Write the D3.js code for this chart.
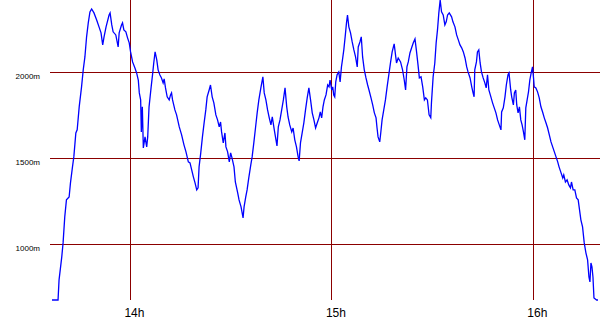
<!DOCTYPE html>
<html>
<head>
<meta charset="utf-8">
<script src="https://cdn.jsdelivr.net/npm/d3@7"></script>
<style>
  body { margin: 0; background: #fff; }
  svg { display: block; }
</style>
</head>
<body>
<div id="chart"></div>
<script>
// heure en minutes depuis minuit, altitude en mètres
const minutes = [
  816.8, 818.6, 818.9, 819.7, 820.1, 820.6, 821.1, 821.9, 822.3, 822.9,
  823.3, 823.9, 824.3, 824.9, 825.6, 826.1, 826.6, 827.1, 827.6, 828.1,
  828.6, 829.3, 830.1, 830.9, 831.4, 831.9, 832.3, 832.9, 833.2, 833.8,
  834.1, 834.6, 835.0, 835.8, 836.5, 836.8, 837.5, 837.8, 838.2, 838.8,
  839.3, 839.8, 840.2, 840.8, 841.5, 842.0, 842.5, 842.8, 843.2, 843.4,
  843.7, 844.0, 844.5, 845.0, 845.3, 845.7, 846.3, 846.8, 847.1, 847.5,
  848.0, 848.4, 848.9, 849.4, 849.9, 850.2, 850.6, 851.1, 851.7, 852.1,
  852.4, 852.7, 853.4, 853.9, 854.7, 855.4, 856.1, 856.7, 857.4, 857.9,
  858.4, 858.9, 859.4, 859.9, 860.3, 860.6, 861.1, 861.6, 862.1, 862.6,
  863.0, 863.6, 864.0, 864.5, 865.0, 865.6, 866.1, 866.6, 867.0, 867.3,
  867.8, 868.3, 868.6, 869.1, 869.6, 870.0, 870.4, 871.0, 871.4, 872.1,
  872.5, 873.1, 873.7, 874.0, 874.5, 874.9, 875.4, 876.0, 876.4, 876.9,
  877.4, 877.9, 878.4, 879.0, 879.6, 880.0, 880.5, 881.0, 881.5, 882.0,
  882.4, 883.0, 883.5, 883.8, 884.2, 884.7, 885.2, 885.7, 886.2, 886.7,
  887.1, 887.6, 888.2, 888.6, 889.1, 889.6, 890.1, 890.4, 890.8, 891.3,
  891.8, 892.3, 892.8, 893.3, 893.8, 894.3, 894.8, 895.3, 895.8, 896.3,
  896.7, 897.1, 897.5, 897.9, 898.4, 898.9, 899.3, 899.6, 900.1, 900.4,
  900.7, 901.0, 901.3, 901.7, 902.2, 902.6, 903.0, 903.3, 903.7, 904.1,
  904.5, 904.8, 905.2, 905.7, 906.2, 906.7, 907.2, 907.7, 908.0, 908.5,
  908.9, 909.3, 909.8, 910.3, 910.8, 911.2, 911.8, 912.3, 912.8, 913.3,
  913.6, 913.9, 914.4, 914.7, 915.1, 915.6, 916.1, 916.6, 917.1, 917.6,
  918.1, 918.7, 919.1, 919.4, 919.9, 920.6, 921.2, 921.7, 922.1, 922.5,
  922.9, 923.4, 923.9, 924.4, 924.9, 925.3, 925.8, 926.2, 926.7, 927.2,
  927.7, 928.1, 928.6, 929.1, 929.6, 929.8, 930.3, 930.8, 931.2, 931.6,
  932.0, 932.4, 932.8, 933.3, 933.8, 934.2, 934.6, 935.1, 935.8, 936.2,
  936.8, 937.3, 937.8, 938.3, 938.8, 939.3, 939.8, 940.3, 940.7, 941.3,
  941.8, 942.2, 942.5, 942.7, 943.2, 943.5, 943.9, 944.3, 944.7, 945.2,
  945.7, 946.1, 946.5, 946.9, 947.5, 948.0, 948.5, 949.0, 949.5, 950.0,
  950.5, 950.7, 951.2, 951.7, 952.1, 952.6, 952.9, 953.4, 953.7, 954.2,
  954.5, 954.9, 955.2, 955.6, 956.0, 956.4, 956.8, 957.2, 957.6, 957.9,
  958.3, 958.7, 959.1, 959.5, 959.9, 960.2, 960.4, 960.9, 961.4, 961.9,
  962.4, 962.9, 963.4, 963.9, 964.4, 964.9, 965.4, 965.9, 966.4, 966.9,
  967.4, 967.8, 968.3, 968.9, 969.2, 969.7, 970.2, 970.7, 971.2, 971.5,
  972.0, 972.5, 973.0, 973.5, 973.9, 974.3, 974.8, 975.3, 975.8, 976.3,
  976.7, 977.0, 977.3, 977.6, 977.9, 978.2, 979.0, 979.4
];
const altitudes = [
  674, 674, 791, 923, 1006, 1157, 1256, 1273, 1355, 1448,
  1506, 1645, 1663, 1797, 1913, 2012, 2087, 2204, 2285, 2349,
  2366, 2343, 2302, 2256, 2227, 2157, 2204, 2262, 2285, 2331,
  2343, 2273, 2233, 2215, 2145, 2227, 2273, 2285, 2244, 2233,
  2198, 2169, 2116, 2058, 2023, 1994, 1953, 1878, 1837, 1651,
  1797, 1558, 1622, 1564, 1622, 1797, 1907, 1994, 2052, 2116,
  2070, 2012, 1983, 1965, 1936, 1959, 1907, 1855, 1837, 1866,
  1878, 1837, 1779, 1750, 1680, 1634, 1576, 1535, 1477, 1471,
  1430, 1390, 1355, 1314, 1326, 1448, 1529, 1622, 1704, 1779,
  1855, 1895, 1924, 1855, 1820, 1750, 1721, 1680, 1709, 1651,
  1587, 1645, 1564, 1535, 1477, 1529, 1500, 1448, 1360, 1297,
  1256, 1215, 1151, 1215, 1273, 1314, 1384, 1459, 1506, 1587,
  1674, 1762, 1837, 1907, 1971, 1878, 1837, 1779, 1733, 1692,
  1738, 1663, 1605, 1570, 1680, 1721, 1779, 1837, 1907, 1797,
  1738, 1692, 1651, 1674, 1605, 1564, 1506, 1483, 1587, 1645,
  1704, 1779, 1849, 1907, 1837, 1762, 1721, 1674, 1704, 1733,
  1767, 1733, 1797, 1837, 1866, 1924, 1913, 1953, 1895, 1913,
  1866, 1855, 1942, 1983, 2000, 1942, 2029, 2070, 2128, 2204,
  2285, 2331, 2262, 2227, 2174, 2128, 2087, 2029, 2145, 2174,
  2204, 2087, 2012, 1965, 1924, 1895, 1849, 1808, 1762, 1733,
  1674, 1622, 1593, 1645, 1721, 1779, 1837, 1913, 1983, 2052,
  2116, 2163, 2099, 2052, 2081, 2058, 2012, 1953, 1895, 2029,
  2058, 2110, 2140, 2169, 2192, 2128, 2041, 1965, 1971, 1913,
  1837, 1849, 1837, 1750, 1733, 1820, 1971, 2052, 2169, 2244,
  2343, 2418, 2349, 2331, 2273, 2291, 2331, 2343, 2320, 2291,
  2262, 2215, 2186, 2157, 2140, 2116, 2081, 2029, 2000, 1965,
  1913, 1878, 1855, 2012, 2058, 2116, 2128, 2052, 2000, 1965,
  1936, 1907, 1983, 1895, 1855, 1820, 1791, 1762, 1721, 1692,
  1663, 1767, 1791, 1855, 1924, 1983, 1994, 1895, 1855, 1808,
  1878, 1895, 1808, 1762, 1797, 1721, 1692, 1651, 1605, 1791,
  1837, 1884, 1953, 1994, 2029, 1965, 1913, 1907, 1884, 1849,
  1797, 1767, 1733, 1704, 1674, 1634, 1593, 1564, 1535, 1506,
  1477, 1448, 1419, 1384, 1401, 1360, 1372, 1343, 1326, 1360,
  1314, 1314, 1267, 1256, 1198, 1140, 1099, 1006, 948, 907,
  808, 779, 889, 866, 808, 686, 674, 674
];
const hourTicks = [14, 15, 16];
const altTicks = [1000, 1500, 2000];

const points = minutes.map((m, i) => ({ t: m, alt: altitudes[i] }));

const width = 600;
const height = 330;
const plot = { left: 50, right: 600, top: 0, bottom: 300 };

const svg = d3.select("#chart")
  .append("svg")
  .attr("width", width)
  .attr("height", height);

// échelles
const xScale = d3.scaleLinear()
  .domain(d3.extent(points, d => d.t))
  .range([52, 598]);

const yScale = d3.scaleLinear()
  .domain(d3.extent(points, d => d.alt))
  .range([plot.bottom, plot.top]);

const gridColor = "#8b0000";

// grille horizontale + libellés d'altitude
const yAxis = d3.axisLeft(yScale)
  .tickValues(altTicks)
  .tickSize(-(plot.right - plot.left))
  .tickPadding(10)
  .tickFormat(d => d + "m");

const gy = svg.append("g")
  .attr("transform", `translate(${plot.left}, 0)`)
  .call(yAxis);
gy.select(".domain").remove();
gy.selectAll("line")
  .attr("stroke", gridColor)
  .attr("shape-rendering", "crispEdges");
gy.selectAll("text")
  .attr("font-family", "Liberation Sans, Arial, sans-serif")
  .attr("font-size", 8)
  .attr("fill", "#000")
  .attr("dy", "7")
  .attr("x", -10);

// grille verticale + heures
const xAxis = d3.axisBottom(xScale)
  .tickValues(hourTicks.map(h => h * 60))
  .tickSize(-(plot.bottom - plot.top))
  .tickPadding(8)
  .tickFormat(d => (d / 60) + "h");

const gx = svg.append("g")
  .attr("transform", `translate(0, ${plot.bottom})`)
  .call(xAxis);
gx.select(".domain").remove();
gx.selectAll("line")
  .attr("stroke", gridColor)
  .attr("shape-rendering", "crispEdges");
gx.selectAll("text")
  .attr("font-family", "Liberation Sans, Arial, sans-serif")
  .attr("font-size", 12)
  .attr("fill", "#000")
  .attr("text-anchor", "start")
  .attr("x", -6)
  .attr("y", 17)
  .attr("dy", 0);

// profil
const line = d3.line()
  .x(d => xScale(d.t))
  .y(d => yScale(d.alt));

svg.append("path")
  .datum(points)
  .attr("fill", "none")
  .attr("stroke", "#0000ff")
  .attr("stroke-width", 1.3)
  .attr("d", line);
</script>
</body>
</html>
